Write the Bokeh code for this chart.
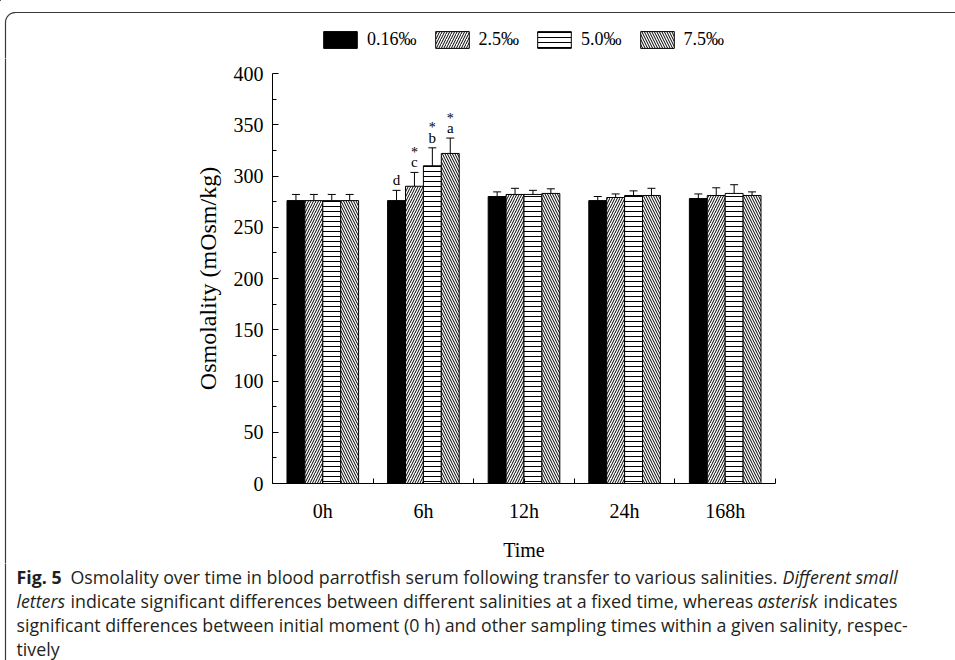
import math
from bokeh.plotting import figure
from bokeh.layouts import column, row
from bokeh.models import (ColumnDataSource, Range1d, FixedTicker, Whisker, TeeHead,
                          Legend, LegendItem, Label)
from bokeh.core.properties import value
from bokeh.embed import file_html
from bokeh.resources import INLINE

# ---------------- data ----------------
times = ["0h", "6h", "12h", "24h", "168h"]
salinities = ["0.16\u2030", "2.5\u2030", "5.0\u2030", "7.5\u2030"]
mean_016 = [276, 276, 280, 276, 278]
mean_25 = [276, 290, 282, 279, 281]
mean_50 = [276, 310, 282, 281, 283]
mean_75 = [276, 322, 283, 281, 281]
sd_016 = [6, 10, 4.5, 4, 4.5]
sd_25 = [6, 13.5, 6, 3.5, 7.5]
sd_50 = [6, 17.5, 4, 4.5, 8.5]
sd_75 = [6, 15, 4.5, 7, 3.5]
letters_6h = ["d", "c", "b", "a"]
asterisks_6h = ["", "*", "*", "*"]

means = [mean_016, mean_25, mean_50, mean_75]
sds = [sd_016, sd_25, sd_50, sd_75]

# ---------------- page layout (pixels) ----------------
W, H = 955, 660
TOP_H = 58          # strip holding the legend and the top border
CAP_Y0 = 563        # caption strip starts here
LEFT_W = 10         # strip holding the left border line
MAIN_H = CAP_Y0 - TOP_H
MAIN_W = W - LEFT_W
FL, FR, FT, FB = 272, 775, 73, 484   # frame edges on the page

SERIF = "Liberation Serif"
SANS = "Open Sans"
BORDER = "#3a3a3a"

styles = [
    dict(fill_color="black"),
    dict(fill_color="white", hatch_pattern="/", hatch_color="black", hatch_scale=5, hatch_weight=1),
    dict(fill_color="white", hatch_pattern="-", hatch_color="black", hatch_scale=5, hatch_weight=1),
    dict(fill_color="white", hatch_pattern="\\", hatch_color="black", hatch_scale=5, hatch_weight=1),
]


def no_align(f):
    if "frame_align" in f.properties():
        f.frame_align = False


def deco_fig(w, h):
    f = figure(width=w, height=h, output_backend="svg", toolbar_location=None,
               x_range=Range1d(0, w), y_range=Range1d(h, 0),
               x_axis_location=None, y_axis_location=None, min_border=0)
    f.outline_line_color = None
    f.grid.visible = False
    f.background_fill_color = "white"
    f.border_fill_color = "white"
    no_align(f)
    return f


# ---------------- main chart ----------------
p = figure(width=MAIN_W, height=MAIN_H, output_backend="svg", toolbar_location=None,
           x_range=Range1d(0.5, 5.5), y_range=Range1d(0, 400),
           min_border_left=FL - LEFT_W, min_border_right=W - FR,
           min_border_top=FT - TOP_H, min_border_bottom=CAP_Y0 - FB)
p.outline_line_color = None
p.xgrid.visible = False
p.ygrid.visible = False
p.background_fill_color = "white"
p.border_fill_color = "white"
no_align(p)

offsets = [-0.267, -0.089, 0.089, 0.267]
bar_w = 0.178

for s in range(4):
    xs = [k + 1 + offsets[s] for k in range(len(times))]
    src = ColumnDataSource(dict(
        x=xs, top=means[s],
        upper=[m + e for m, e in zip(means[s], sds[s])],
        lower=[m - e for m, e in zip(means[s], sds[s])],
    ))
    p.vbar(x="x", top="top", bottom=0, width=bar_w, source=src,
           line_color="black", line_width=1, **styles[s])
    p.add_layout(Whisker(base="x", upper="upper", lower="lower", source=src,
                         line_color="black", line_width=1,
                         upper_head=TeeHead(size=8, line_color="black", line_width=1),
                         lower_head=TeeHead(size=8, line_color="black", line_width=1)))

# significance marks at 6h
g = times.index("6h")
ann_src = ColumnDataSource(dict(
    x=[g + 1 + o for o in offsets],
    y=[means[s][g] + sds[s][g] for s in range(4)],
    letter=letters_6h, star=asterisks_6h))
p.text(x="x", y="y", text="letter", source=ann_src, text_align="center",
       text_baseline="alphabetic", y_offset=-10, text_font=value(SERIF),
       text_font_size="15px", text_color="#000000")
p.text(x="x", y="y", text="star", source=ann_src, text_align="center",
       text_baseline="alphabetic", y_offset=-20, text_font=value(SERIF),
       text_font_size="14px", text_color="#000000")

# axes
p.xaxis.ticker = FixedTicker(ticks=[1, 2, 3, 4, 5],
                             minor_ticks=[0.5, 1.5, 2.5, 3.5, 4.5, 5.5])
p.xaxis.major_label_overrides = {i + 1: t for i, t in enumerate(times)}
p.yaxis.ticker = FixedTicker(ticks=list(range(0, 401, 50)),
                             minor_ticks=list(range(25, 400, 50)))
for ax in (p.xaxis[0], p.yaxis[0]):
    ax.axis_line_color = "black"
    ax.axis_line_width = 1
    ax.major_tick_line_color = "black"
    ax.minor_tick_line_color = "black"
    ax.major_tick_out = 0
    ax.minor_tick_out = 0
    ax.major_label_text_font = SERIF
    ax.major_label_text_font_size = "20px"
    ax.major_label_text_color = "black"
    ax.axis_label_text_font = SERIF
    ax.axis_label_text_font_style = "normal"
    ax.axis_label_text_color = "black"
p.xaxis.major_tick_in = 5
p.xaxis.minor_tick_in = 5
p.yaxis.major_tick_in = 6
p.yaxis.minor_tick_in = 4
p.xaxis.axis_label = "Time"
p.yaxis.axis_label = "Osmolality (mOsm/kg)"
p.xaxis.axis_label_text_font_size = "20px"
p.yaxis.axis_label_text_font_size = "24px"
p.xaxis.major_label_standoff = 16
p.xaxis.axis_label_standoff = 14
p.yaxis.major_label_standoff = 9
p.yaxis.axis_label_standoff = 10

# ---------------- top strip: border corner + legend ----------------
top = deco_fig(W, TOP_H)
r = 10
arc = [(15 - r * math.cos(math.radians(t)), 22 - r * math.sin(math.radians(t))) for t in range(0, 91, 5)]
top.line(x=[5] + [a[0] for a in arc] + [W], y=[TOP_H] + [a[1] for a in arc] + [12],
         line_color=BORDER, line_width=1.2)
# legend proxies (one row each, kept outside the strip's view)
leg_renderers = []
for s in range(4):
    proxy = ColumnDataSource(dict(x=[-100], top=[-50]))
    leg_renderers.append(top.vbar(x="x", top="top", bottom=-60, width=1, source=proxy,
                                  line_color="black", line_width=1, **styles[s]))
legend = Legend(items=[LegendItem(label=salinities[i], renderers=[leg_renderers[i]]) for i in range(4)],
                orientation="horizontal", location=(319, TOP_H - 50),
                glyph_width=42, glyph_height=21, label_standoff=6, spacing=14,
                padding=0, margin=0, border_line_color=None, background_fill_alpha=0,
                label_text_font=SERIF, label_text_font_size="18px", label_text_color="black",
                label_height=21)
top.add_layout(legend)

# ---------------- left strip: border line ----------------
left = deco_fig(LEFT_W, MAIN_H)
left.line(x=[5, 5], y=[-10, MAIN_H + 10], line_color=BORDER, line_width=1.2)

# ---------------- caption strip ----------------
cap_h = H - CAP_Y0
capf = deco_fig(W, cap_h)
capf.line(x=[5, 5], y=[-10, cap_h + 10], line_color=BORDER, line_width=1.2)
CAP = "#231f20"
CAP_SIZE = "17.8px"


def cap(text, px, py, style="normal"):
    capf.add_layout(Label(x=px, y=py - CAP_Y0, text=text, text_font=SANS, text_font_size=CAP_SIZE,
                          text_font_style=style, text_color=CAP, text_baseline="middle",
                          text_align="left"))


cap("Fig. 5", 16, 576, "bold")
cap("Osmolality over time in blood parrotfish serum following transfer to various salinities.", 70, 576)
cap("Different small", 782, 576, "italic")
cap("letters", 16, 600, "italic")
cap("indicate significant differences between different salinities at a fixed time, whereas", 70, 600)
cap("asterisk", 757, 600, "italic")
cap("indicates", 823, 600)
cap("significant differences between initial moment (0 h) and other sampling times within a given salinity, respec-", 16, 624)
cap("tively", 16, 648)

layout = column(top, row(left, p, spacing=0), capf, spacing=0)
open("out.html", "w").write(file_html(layout, INLINE))
